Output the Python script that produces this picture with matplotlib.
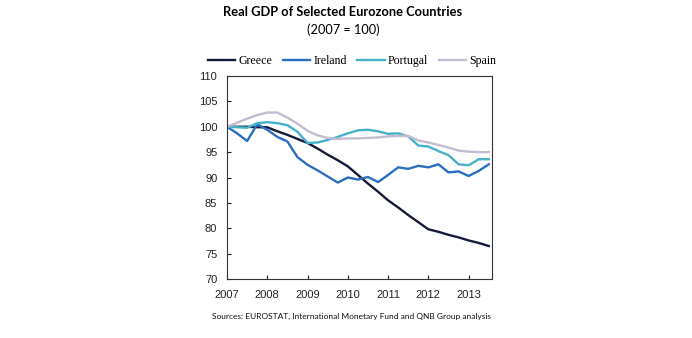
import matplotlib
matplotlib.use("Agg")
import matplotlib.pyplot as plt
import numpy as np

years = [2007, 2008, 2009, 2010, 2011, 2012, 2013]
quarters_per_year = 4

greece = [100.0, 100.0, 100.0, 99.9, 99.9, 99.1, 98.4, 97.6, 96.8, 95.7, 94.5, 93.4, 92.2,
          90.5, 88.8, 87.2, 85.5, 84.1, 82.6, 81.2, 79.8, 79.3, 78.7, 78.2, 77.6, 77.1, 76.5]
ireland = [100.0, 98.7, 97.2, 100.5, 99.4, 98.0, 97.1, 94.0, 92.5, 91.4, 90.2, 89.0, 90.0,
           89.6, 90.1, 89.1, 90.5, 92.0, 91.7, 92.3, 92.0, 92.6, 91.0, 91.2, 90.3, 91.3, 92.6]
portugal = [100.0, 99.9, 99.8, 100.7, 100.9, 100.7, 100.3, 99.0, 96.8, 96.9, 97.4, 98.0, 98.7,
            99.3, 99.4, 99.1, 98.6, 98.7, 98.1, 96.3, 96.1, 95.2, 94.4, 92.6, 92.4, 93.6, 93.6]
spain = [100.0, 100.8, 101.6, 102.3, 102.8, 102.8, 101.8, 100.6, 99.2, 98.3, 97.8, 97.6, 97.7,
         97.7, 97.8, 97.9, 98.1, 98.2, 98.2, 97.3, 96.9, 96.4, 95.9, 95.3, 95.1, 95.0, 95.0]

series_names = ["Greece", "Ireland", "Portugal", "Spain"]
colors = ["#141a3a", "#2a6fbf", "#45b0c8", "#c4bccf"]

x = years[0] + np.arange(len(greece)) / quarters_per_year

fig = plt.figure(figsize=(6.92, 3.38), dpi=100)
ax = fig.add_axes([227/692, 1 - 279/338, (492-227)/692, (279-76)/338])

for name, vals, c in zip(series_names, [greece, ireland, portugal, spain], colors):
    ax.plot(x, vals, color=c, lw=1.7, label=name, solid_joinstyle="round")

ax.set_xlim(2007, 2013.58)
ax.set_ylim(70, 110)
ax.set_xticks(years)
ax.set_xticklabels([str(y) for y in years])
ax.set_yticks(np.arange(70, 111, 5))
ax.tick_params(direction="in", length=3, width=0.8, labelsize=8, colors="#222222")
ax.tick_params(axis="y", pad=7)
ax.tick_params(axis="x", pad=8)
for lab in ax.get_xticklabels() + ax.get_yticklabels():
    lab.set_fontfamily("Liberation Sans")
for s in ax.spines.values():
    s.set_color("#333333")
    s.set_linewidth(0.8)

fig.text(343/692, 1 - 12.5/338, "Real GDP of Selected Eurozone Countries", ha="center", va="center",
         fontsize=9.3, fontweight="bold", fontfamily="Lato")
fig.text(343/692, 1 - 30/338, "(2007 = 100)", ha="center", va="center",
         fontsize=9.2, fontfamily="Lato")

handles, labels = ax.get_legend_handles_labels()
leg = fig.legend(handles, labels, loc="center", bbox_to_anchor=(352/692, 1 - 61/338), ncol=4,
                 frameon=False, handlelength=2.3, handletextpad=0.25, columnspacing=0.9,
                 prop={"family": "Liberation Serif", "size": 8.6})

fig.text(351/692, 1 - 316/338, "Sources: EUROSTAT, International Monetary Fund and QNB Group analysis",
         ha="center", va="center", fontsize=6.0, fontfamily="Lato", color="#111111")

fig.savefig("out.png", dpi=100)
